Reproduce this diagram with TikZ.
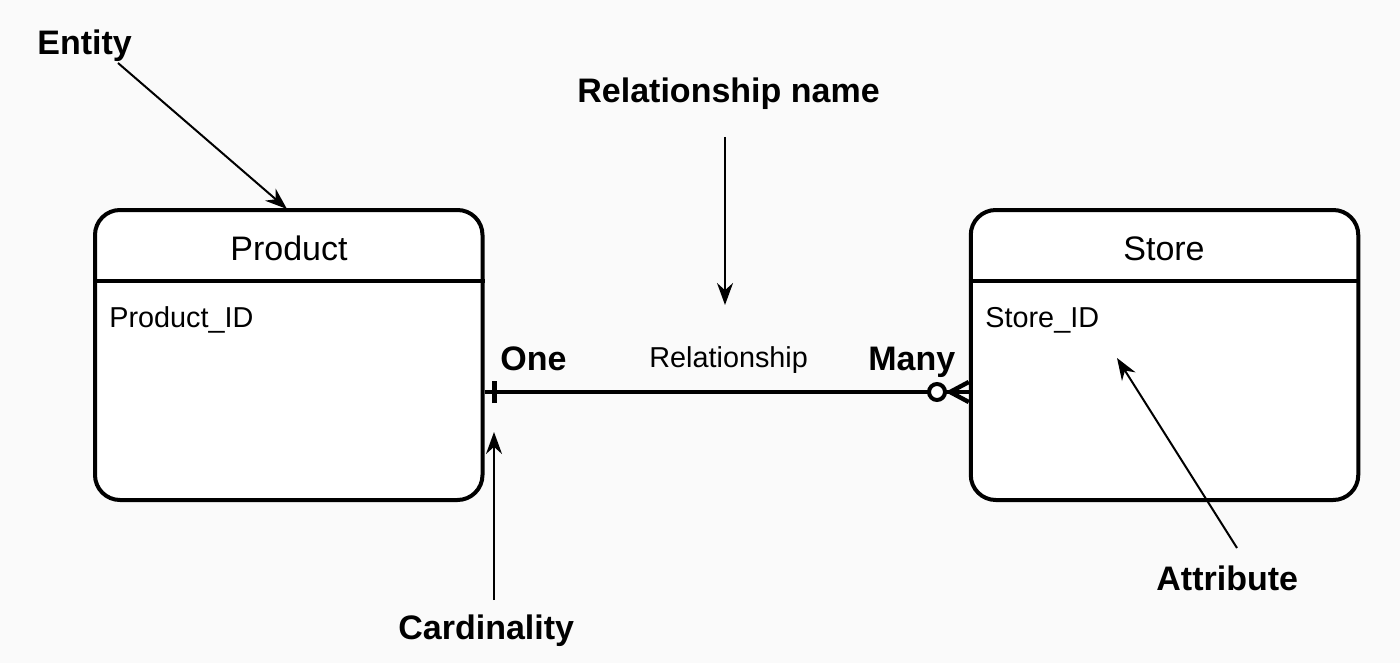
\documentclass[tikz,border=0pt]{standalone}
\usepackage{fontspec}
\setmainfont{Liberation Sans}
\usetikzlibrary{arrows.meta}
\definecolor{bg}{RGB}{250,250,250}
\begin{document}
\begin{tikzpicture}[x=0.5pt,y=-0.5pt,
  entitybox/.style={draw,line width=2pt,fill=white,rounded corners=12.5pt,minimum width=193.75pt,minimum height=145pt,inner sep=0pt},
  lbl/.style={font=\fontsize{17}{20}\selectfont\bfseries,inner sep=0pt,anchor=base west},
  ttl/.style={font=\fontsize{17}{20}\selectfont,inner sep=0pt,anchor=base},
  attr/.style={font=\fontsize{14.4}{17}\selectfont,inner sep=0pt,anchor=base west},
  ptr/.style={line width=1pt,-{Stealth[length=11pt,width=8pt]}},
  rel/.style={line width=2.2pt}]
\fill[bg] (0,0) rectangle (1400,663);
\useasboundingbox (0,0) rectangle (1400,663);
% entities
\node[entitybox] (product) at (288.75,355) {};
\node[entitybox] (store) at (1164.5,355) {};
\draw[line width=2pt] ([yshift=-36.25pt]product.north west) -- ([yshift=-36.25pt]product.north east);
\draw[line width=2pt] ([yshift=-36.25pt]store.north west) -- ([yshift=-36.25pt]store.north east);
\node[ttl] (ptitle) at (289,260) {Product};
\node[ttl] (stitle) at (1164,260) {Store};
\node[attr] (pid) at (109,327) {Product\_ID};
\node[attr] (sid) at (985,327) {Store\_ID};
% relationship
\coordinate (rl) at (product.east |- 0,392);
\coordinate (rr) at (store.west |- 0,392);
\draw[rel] (rl) -- (rr);
\coordinate (tick) at (494,392);
\draw[line width=2.5pt] ([yshift=-5.5pt]tick) -- ([yshift=5.5pt]tick);
\coordinate (crow) at (950,392);
\draw[rel] (crow) -- ([yshift=-5pt]rr);
\draw[rel] (crow) -- ([yshift=5pt]rr);
\node[circle,draw,line width=2pt,fill=white,minimum size=8pt,inner sep=0pt] (circ) at (937,392) {};
\node[attr] (relname) at (649,367) {Relationship};
\node[lbl] (one) at (500,370) {One};
\node[lbl] (many) at (868,370) {Many};
% labels
\node[lbl] (entity) at (37,55) {Entity};
\node[lbl] (relnm) at (577,103) {Relationship name};
\node[lbl] (card) at (398,639) {Cardinality};
\node[lbl] (attrib) at (1156,590) {Attribute};
% pointer arrows
\coordinate (e1) at (118,63);
\coordinate (e2) at (287,209);
\draw[ptr] (e1) -- (e2);
\coordinate (r1) at (725,137);
\coordinate (r2) at (725,305);
\draw[ptr] (r1) -- (r2);
\coordinate (c1) at (494,600);
\coordinate (c2) at (494,432);
\draw[ptr] (c1) -- (c2);
\coordinate (a1) at (1237,548);
\coordinate (a2) at (1117,358);
\draw[ptr] (a1) -- (a2);
\end{tikzpicture}
\end{document}
